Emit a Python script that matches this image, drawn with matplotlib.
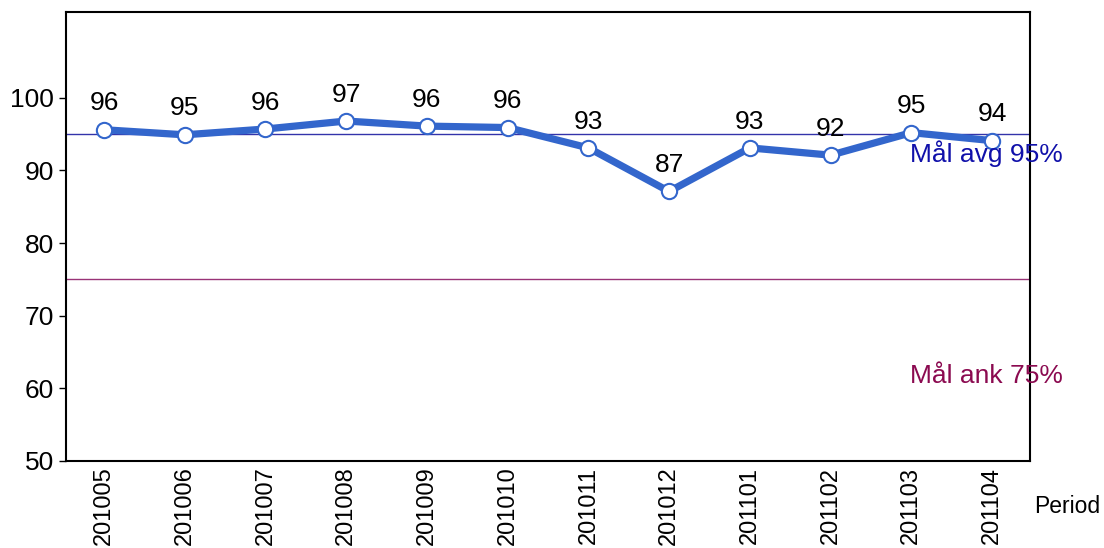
import matplotlib
matplotlib.use("Agg")
import matplotlib.pyplot as plt

plt.rcParams["font.family"] = ["Liberation Sans", "DejaVu Sans"]

periods = ["201005", "201006", "201007", "201008", "201009", "201010",
           "201011", "201012", "201101", "201102", "201103", "201104"]
values = [95.6, 94.9, 95.7, 96.8, 96.1, 95.9, 93.1, 87.1, 93.1, 92.1, 95.2, 94.1]
target_avg = 95
target_ank = 75

BLUE = "#3366CC"

fig = plt.figure(figsize=(11.04, 5.48), dpi=100)
ax = fig.add_axes([0.0598, 0.1588, 0.8732, 0.8192])

x = list(range(len(periods)))
ax.axhline(target_avg, color="#3333AA", linewidth=1)
ax.axhline(target_ank, color="#993377", linewidth=1)
ax.plot(x, values, color=BLUE, linewidth=5.2, marker="o", markersize=11,
        markerfacecolor="white", markeredgecolor=BLUE, markeredgewidth=1.5,
        zorder=3)

for xi, v in zip(x, values):
    ax.annotate(f"{v:.0f}", (xi, v), xytext=(0, 19), textcoords="offset points",
                ha="center", va="center", fontsize=19)

ax.text(9.98, target_avg - 0.9, "Mål avg 95%", color="#1010AA", fontsize=19,
        va="top", ha="left", clip_on=False)
ax.text(9.98, 61.7, "Mål ank 75%", color="#8B0A50", fontsize=19,
        va="center", ha="left", clip_on=False)

ax.set_xlim(-0.47, len(periods) - 0.53)
ax.set_ylim(50, 111.8)
ax.set_yticks([50, 60, 70, 80, 90, 100])
ax.set_xticks(x)
ax.set_xticklabels(periods, rotation=90)
ax.tick_params(axis="y", labelsize=19, length=5, width=1)
ax.tick_params(axis="x", labelsize=17, length=0, pad=4)
for s in ax.spines.values():
    s.set_linewidth(1.5)

fig.text(0.937, 0.075, "Period", fontsize=16.5, ha="left", va="center")

plt.savefig("out.png", dpi=100)
plt.close()
